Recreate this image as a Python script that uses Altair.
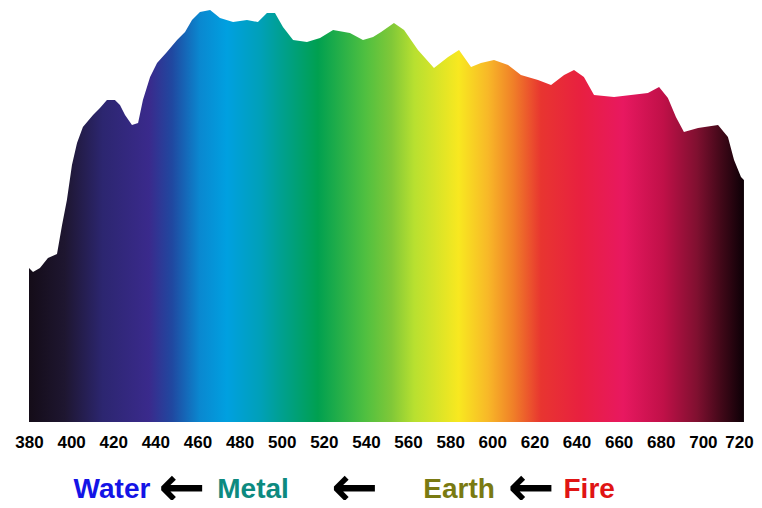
import altair as alt
import pandas as pd

# Spectrum profile (wavelength in nm, relative intensity)
wavelength = [380.0, 381.9, 385.2, 389.0, 393.3, 395.7, 398.0, 400.4, 402.8, 405.6,
              410.4, 413.7, 417.0, 420.8, 423.2, 425.6, 428.9, 431.8, 434.1, 437.5,
              440.8, 445.5, 450.3, 454.1, 457.4, 461.2, 466.0, 470.7, 476.9, 483.5,
              488.7, 493.0, 496.8, 500.6, 505.4, 512.0, 518.2, 524.4, 532.4, 538.6,
              543.4, 547.2, 553.3, 558.1, 564.7, 572.3, 579.0, 584.2, 589.9, 594.6,
              600.8, 607.5, 613.6, 621.7, 627.9, 634.1, 638.8, 643.5, 648.3, 657.8,
              673.9, 679.2, 683.4, 687.2, 691.0, 697.7, 707.2, 711.9, 714.8, 718.1,
              719.5]
intensity = [154, 150, 154, 164, 168, 197, 222, 257, 279, 295,
             307, 314, 322, 322, 317, 307, 297, 299, 322, 345,
             359, 370, 382, 390, 402, 410, 412, 404, 400, 402,
             400, 409, 409, 395, 382, 380, 384, 392, 389, 382,
             385, 390, 399, 392, 372, 354, 365, 372, 355, 359,
             362, 357, 347, 342, 337, 347, 352, 345, 327, 325,
             329, 335, 324, 305, 290, 294, 297, 285, 262, 245,
             242]

tick_values = list(range(380, 721, 20))

# Element labels under the axis
element_labels = ["Water", "\u2190", "Metal", "\u2190", "Earth", "\u2190", "Fire"]
label_anchor_nm = [419.4, 452.5, 486.4, 534.5, 584.2, 618.4, 646.0]
label_kind = ["Water", "arrow1", "Metal", "arrow2", "Earth", "arrow3", "Fire"]
label_colors = ["#1414e6", "#000000", "#0d8a80", "#000000", "#7a7a12", "#000000", "#e01414"]

spec_df = pd.DataFrame({"wavelength": wavelength, "intensity": intensity})
lab_df = pd.DataFrame({"x": label_anchor_nm, "text": element_labels, "kind": label_kind})

stops_def = [
    (0.000, "#140c18"), (0.050, "#1e1630"), (0.103, "#2c2670"), (0.168, "#3a2a8c"),
    (0.200, "#2048a0"), (0.239, "#0a88d0"), (0.277, "#00a0e0"), (0.324, "#00a0b8"),
    (0.353, "#00a090"), (0.404, "#00a050"), (0.471, "#50c040"), (0.507, "#80c838"),
    (0.539, "#b8e030"), (0.601, "#f8e820"), (0.642, "#f8b828"), (0.677, "#f08028"),
    (0.716, "#e83530"), (0.772, "#e82040"), (0.831, "#e81860"), (0.887, "#c01048"),
    (0.934, "#801030"), (0.969, "#400818"), (1.000, "#0c0006"),
]
gradient = alt.Gradient(
    gradient="linear",
    stops=[alt.GradientStop(color=c, offset=o) for o, c in stops_def],
    x1=0, x2=1, y1=1, y2=1,
)

xscale = alt.Scale(domain=[380, 720], nice=False, zero=False)

area = alt.Chart(spec_df).mark_area(color=gradient, interpolate="linear").encode(
    x=alt.X("wavelength:Q", scale=xscale,
            axis=alt.Axis(values=tick_values, title=None, ticks=False, domain=False,
                          grid=False, labelFont="Liberation Sans", labelFontWeight="bold",
                          labelFontSize=17, labelColor="#000000", labelPadding=12,
                          labelFlush=False, labelOverlap=False,
                          labelOffset=alt.expr("datum.value == 720 ? -6 : 0"))),
    y=alt.Y("intensity:Q", scale=alt.Scale(domain=[0, 412], nice=False), axis=None),
)

words = alt.Chart(lab_df).transform_filter(
    alt.FieldOneOfPredicate(field="kind", oneOf=["Water", "Metal", "Earth", "Fire"])
).mark_text(font="Liberation Sans", fontWeight="bold", fontSize=28, baseline="alphabetic",
            align="center").encode(
    x=alt.X("x:Q", scale=xscale),
    y=alt.value(488),
    text="text:N",
    color=alt.Color("kind:N", scale=alt.Scale(domain=label_kind, range=label_colors), legend=None),
)

arrows = alt.Chart(lab_df).transform_filter(
    alt.FieldOneOfPredicate(field="kind", oneOf=["arrow1", "arrow2", "arrow3"])
).mark_text(font="DejaVu Sans", fontWeight="bold", fontSize=56, baseline="middle",
            align="center", color="#000000").encode(
    x=alt.X("x:Q", scale=xscale),
    y=alt.value(479),
    text="text:N",
)

chart = alt.layer(area, words, arrows).properties(
    width=716, height=412,
    autosize=alt.AutoSizeParams(type="none"),
    padding={"left": 21, "top": 2, "right": 9, "bottom": 78},
).configure_view(stroke=None)

chart.save("out.html", embed_options={"renderer": "svg", "actions": False})
